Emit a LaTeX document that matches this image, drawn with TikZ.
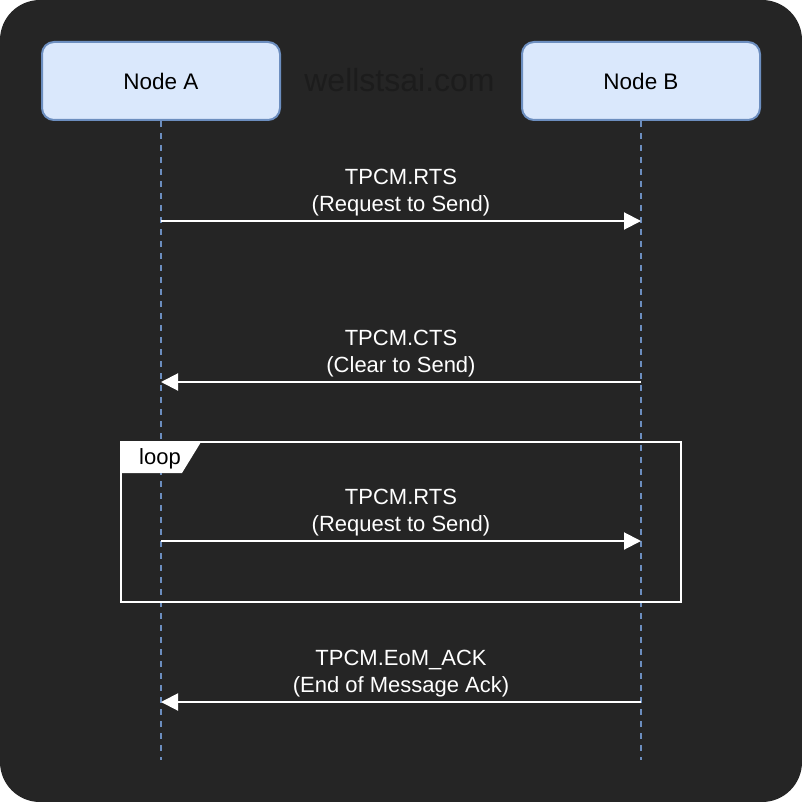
\documentclass[tikz,border=0pt]{standalone}
\usepackage{fontspec}
\setmainfont{Liberation Sans}
\usetikzlibrary{arrows.meta,positioning}

\definecolor{bgdark}{HTML}{252525}
\definecolor{boxfill}{HTML}{DAE8FC}
\definecolor{boxline}{HTML}{6C8EBF}
\definecolor{markgray}{HTML}{1C1C1C}

\tikzset{
  actor/.style={draw=boxline,fill=boxfill,line width=2pt,rounded corners=12pt,
    minimum width=238pt,minimum height=78pt,text=black,font=\fontsize{22.5}{27}\selectfont},
  lifeline/.style={boxline,line width=2pt,dash pattern=on 6pt off 6pt},
  msg/.style={white,line width=2pt,-{Triangle[length=17pt,width=17pt]}},
  msglabel/.style={text=white,align=center,inner sep=0pt,font=\fontsize{22}{27}\selectfont}
}

\begin{document}
\begin{tikzpicture}[x=1pt,y=-1pt]
\useasboundingbox (0,0) rectangle (802,802);
\fill[white] (0,0) rectangle (802,802);
\fill[bgdark,rounded corners=40pt] (0,0) rectangle (802,802);

\node[text=markgray,anchor=base,font=\fontsize{32}{38}\selectfont] (mark) at (399.5,92) {wellstsai.com};

\node[actor] (nodeA) at (161,81) {Node A};
\node[actor] (nodeB) at (641,81) {Node B};

\coordinate (endA) at (161,760);
\coordinate (endB) at (641,760);
\draw[lifeline] (nodeA.south) -- (endA);
\draw[lifeline] (nodeB.south) -- (endB);

\coordinate (a1) at (161,221);
\coordinate (b1) at (641,221);
\coordinate (a2) at (161,382);
\coordinate (b2) at (641,382);
\coordinate (a3) at (161,541);
\coordinate (b3) at (641,541);
\coordinate (a4) at (161,702);
\coordinate (b4) at (641,702);

\draw[white,line width=2pt] (121,442) rectangle (681,602);
\fill[white] (121,442) -- (201,442) -- (182,473) -- (121,473) -- cycle;
\node[text=black,font=\fontsize{22}{27}\selectfont] (loop) at (160,459) {loop};

\draw[msg] (a1) -- (b1);
\draw[msg] (b2) -- (a2);
\draw[msg] (a3) -- (b3);
\draw[msg] (b4) -- (a4);

\path (a1) -- (b1) coordinate[midway] (m1);
\path (a2) -- (b2) coordinate[midway] (m2);
\path (a3) -- (b3) coordinate[midway] (m3);
\path (a4) -- (b4) coordinate[midway] (m4);

\node[msglabel,above=5pt of m1] (rts1) {TPCM.RTS\\(Request to Send)};
\node[msglabel,above=5pt of m2] (cts) {TPCM.CTS\\(Clear to Send)};
\node[msglabel,above=5pt of m3] (rts2) {TPCM.RTS\\(Request to Send)};
\node[msglabel,above=5pt of m4] (eomack) {TPCM.EoM\_ACK\\(End of Message Ack)};

\end{tikzpicture}
\end{document}
